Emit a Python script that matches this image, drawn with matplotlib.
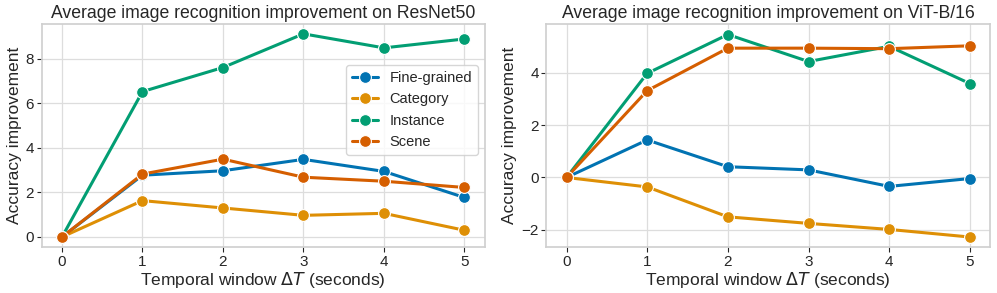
import matplotlib
matplotlib.use('Agg')
import matplotlib.pyplot as plt
import seaborn as sns

sns.set_theme(style='whitegrid')
plt.rcParams['font.family'] = ['Liberation Sans', 'DejaVu Sans']

windows = [0, 1, 2, 3, 4, 5]
series_names = ['Fine-grained', 'Category', 'Instance', 'Scene']

resnet_fine = [0, 2.77, 2.97, 3.48, 2.94, 1.77]
resnet_category = [0, 1.63, 1.30, 0.97, 1.06, 0.30]
resnet_instance = [0, 6.52, 7.60, 9.11, 8.48, 8.88]
resnet_scene = [0, 2.82, 3.49, 2.68, 2.50, 2.22]

vit_fine = [0, 1.43, 0.41, 0.29, -0.34, -0.04]
vit_category = [0, -0.36, -1.50, -1.75, -1.98, -2.27]
vit_instance = [0, 3.97, 5.45, 4.42, 5.00, 3.58]
vit_scene = [0, 3.31, 4.93, 4.93, 4.91, 5.02]

titles = ['Average image recognition improvement on ResNet50',
          'Average image recognition improvement on ViT-B/16']

colors = sns.color_palette('colorblind')

fig = plt.figure(figsize=(9.97, 2.93), dpi=100)
ax1 = fig.add_axes([0.042, 0.157, 0.444, 0.761])
ax2 = fig.add_axes([0.548, 0.157, 0.445, 0.761])

panels = [(ax1, [resnet_fine, resnet_category, resnet_instance, resnet_scene]),
          (ax2, [vit_fine, vit_category, vit_instance, vit_scene])]

for k, (ax, data) in enumerate(panels):
	for i in range(4):
		ax.plot(windows, data[i], color=colors[i], linewidth=2.2, marker='o',
				markersize=8.5, markeredgecolor='white', markeredgewidth=0.8,
				label=series_names[i])
	ax.set_title(titles[k], fontsize=12.7, pad=4, color='#262626')
	ax.set_xlabel('Temporal window $\\Delta T$ (seconds)', fontsize=12.5, labelpad=1)
	ax.set_ylabel('Accuracy improvement', fontsize=12.5, labelpad=3)
	ax.set_xticks(windows)
	ax.tick_params(axis='both', labelsize=11, length=3.5, width=0.8,
				   bottom=True, left=True, pad=2, colors='#262626')
	ax.grid(True, color='#dddddd', linewidth=0.9)
	for s in ax.spines.values():
		s.set_color('#d0d0d0')
	ax.set_xlim(-0.25, 5.25)

ax1.set_ylim(-0.45, 9.55)
ax1.set_yticks([0, 2, 4, 6, 8])
ax2.set_ylim(-2.65, 5.85)
ax2.set_yticks([-2, 0, 2, 4])

ax1.legend(loc='upper right', bbox_to_anchor=(0.985, 0.815), borderaxespad=0,
		   fontsize=10.5, frameon=True, handlelength=1.8, labelspacing=0.5)

fig.savefig('out.png', dpi=100)
